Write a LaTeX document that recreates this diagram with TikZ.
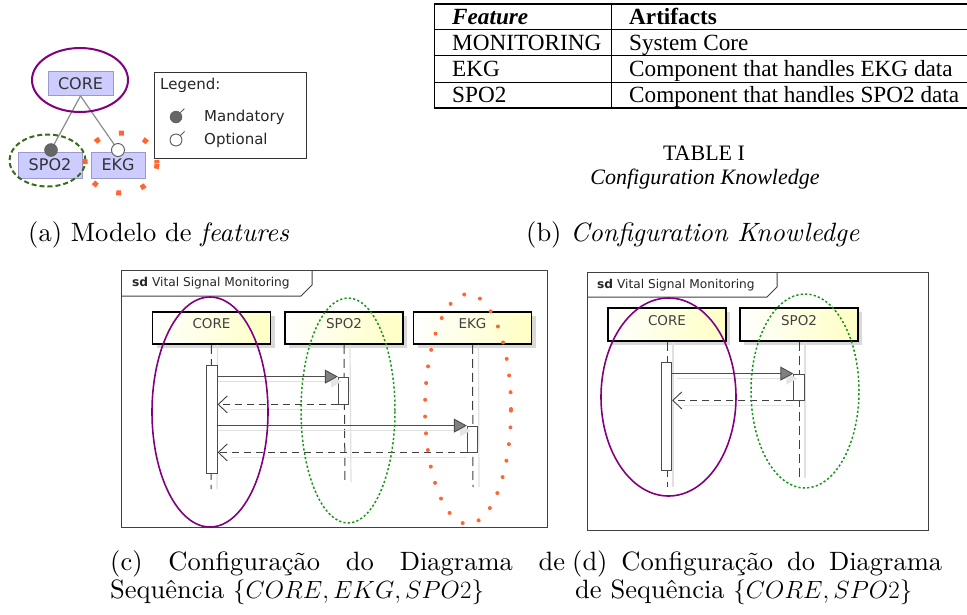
\documentclass[tikz,border=0pt]{standalone}
\usepackage{fontspec}
\setmainfont{lmroman10-regular.otf}[ItalicFont=lmroman10-italic.otf, BoldFont=lmroman10-bold.otf]
\newfontfamily\timesf{Liberation Serif}
\newfontfamily\dejavu{DejaVu Sans}
\usetikzlibrary{arrows.meta,shadows,calc}

\definecolor{fpurple}{HTML}{800080}
\definecolor{folive}{HTML}{3A6B18}
\definecolor{forange}{HTML}{FF6633}
\definecolor{fgreen}{HTML}{1A961A}
\definecolor{ffill}{HTML}{CCCCFF}
\definecolor{fborder}{HTML}{9999CC}
\definecolor{hdryellow}{HTML}{FFFFC4}

\tikzset{
  fbox/.style={draw=fborder, fill=ffill, line width=0.8pt, inner sep=0pt,
    minimum height=24pt, text=black!80, font=\dejavu\fontsize{16}{16}\selectfont},
  fline/.style={draw=black!45, line width=1.2pt},
  mandnode/.style={circle, draw=black!65, fill=black!60, minimum size=13pt, inner sep=0pt},
  optnode/.style={circle, draw=black!65, fill=white, line width=0.9pt, minimum size=13pt, inner sep=0pt},
  legtext/.style={anchor=west, inner sep=0pt, text=black!85, font=\dejavu\fontsize{15}{15}\selectfont},
  hilitecore/.style={draw=fpurple, line width=1.6pt},
  hilitespo/.style={draw=fgreen, line width=1.5pt, dash pattern=on 2.2pt off 2.2pt},
  hiliteekg/.style={draw=forange, line width=4pt, line cap=round, dash pattern=on 0pt off 16.8pt},
  tabtext/.style={anchor=base west, inner sep=0pt, font=\timesf\fontsize{23.2}{23.2}\selectfont},
  sdframe/.style={draw=black!75, line width=1pt},
  sdtitle/.style={anchor=west, inner sep=0pt, text=black!85, font=\dejavu\fontsize{12.2}{12.2}\selectfont},
  hdrbox/.style={draw=black, line width=1.8pt, left color=white, right color=hdryellow,
    minimum width=118pt, minimum height=32pt, inner sep=0pt, text depth=9pt,
    text=black!75, font=\dejavu\fontsize{13.5}{13.5}\selectfont,
    drop shadow={shadow xshift=4pt, shadow yshift=-4pt, fill=black!15, opacity=1}},
  lifeline/.style={draw=black!75, line width=1pt, dash pattern=on 9pt off 5pt},
  lifeshadow/.style={draw=black!12, line width=1.2pt},
  actbar/.style={draw=black!70, fill=white, line width=0.8pt, minimum width=10.5pt, inner sep=0pt},
  callmsg/.style={draw=black!70, line width=0.9pt,
    -{Triangle[length=13pt, width=14pt, fill=black!50]}},
  callshadow/.style={draw=black!12, line width=1.2pt,
    -{Triangle[length=11pt, width=12pt, fill=black!10, color=black!10]}},
  retmsg/.style={draw=black!75, line width=0.9pt, dash pattern=on 7pt off 5pt,
    -{Straight Barb[length=9pt, width=17pt, line width=0.9pt]}},
  retshadow/.style={draw=black!10, line width=1.2pt},
  capt/.style={anchor=base west, inner sep=0pt, font=\fontsize{26.5}{28}\selectfont},
}

\begin{document}
\begin{tikzpicture}[x=1pt, y=-1pt]
\useasboundingbox (0,0) rectangle (967,614);

% ---------------- (a) feature model ----------------
\node[fbox, minimum width=65pt] (core) at (80.5,83.5) {CORE};
\node[fbox, minimum width=64pt, minimum height=26pt] (spo2) at (50,165) {SPO2};
\node[fbox, minimum width=54pt, minimum height=26pt] (ekg) at (118,165) {EKG};
\coordinate (mandpos) at (51,150);
\coordinate (optpos) at (118,150);
\draw[fline] (core.south) -- (mandpos);
\draw[fline] (core.south) -- (optpos);
\node[mandnode] (mand) at (mandpos) {};
\node[optnode] (opt) at (optpos) {};

\draw[draw=fpurple, line width=2pt] (80,80) ellipse [x radius=48pt, y radius=32pt];
\draw[draw=folive, line width=2pt, dash pattern=on 5pt off 3pt] (47.5,160.5) ellipse [x radius=38pt, y radius=26pt];
\draw[draw=forange, line width=5pt, dash pattern=on 5pt off 20.5pt, dash phase=2pt] (121,163) ellipse [x radius=36pt, y radius=30pt];

% legend
\node[draw=black!80, line width=1pt, minimum width=152pt, minimum height=86pt, inner sep=0pt] (legend) at (230,115) {};
\node[legtext] (legtitle) at (160,85) {Legend:};
\node[mandnode, minimum size=12pt] (legmand) at (176,117) {};
\node[optnode, minimum size=12pt] (legopt) at (176,140) {};
\draw[draw=black!65, line width=0.9pt] (legmand.45) -- ++(4,-4);
\draw[draw=black!65, line width=0.9pt] (legopt.45) -- ++(4,-4);
\node[legtext] (legmandtxt) at (204,117) {Mandatory};
\node[legtext] (legopttxt) at (204,140) {Optional};

% ---------------- (b) configuration knowledge ----------------
\draw[line width=1.1pt] (434,4) -- (967,4);
\draw[line width=0.9pt] (434,29) -- (967,29);
\draw[line width=0.9pt] (434,55) -- (967,55);
\draw[line width=0.9pt] (434,82) -- (967,82);
\draw[line width=1.1pt] (434,108) -- (967,108);
\draw[line width=0.9pt] (434,4) -- (434,108);
\draw[line width=0.9pt] (611,4) -- (611,108);

\node[tabtext] (hfeat) at (452,24) {\bfseries\itshape Feature};
\node[tabtext] (hart) at (629,24) {\bfseries Artifacts};
\node[tabtext] (r1a) at (452,50) {MONITORING};
\node[tabtext] (r1b) at (629,50) {System Core};
\node[tabtext] (r2a) at (452,76.5) {EKG};
\node[tabtext] (r2b) at (629,76.5) {Component that handles EKG data};
\node[tabtext] (r3a) at (452,102.5) {SPO2};
\node[tabtext] (r3b) at (629,102.5) {Component that handles SPO2 data};

\node[anchor=base, inner sep=0pt, font=\timesf\fontsize{22}{22}\selectfont] (tabno) at (704,160) {TABLE I};
\node[anchor=base, inner sep=0pt, font=\timesf\itshape\fontsize{22}{22}\selectfont] (tabcap) at (705,184) {Configuration Knowledge};

% ---------------- captions (a), (b) ----------------
\node[capt] (capa) at (28,241) {(a) Modelo de \textit{features}};
\node[capt] (capb) at (526,241) {(b) \textit{Configuration Knowledge}};

% ---------------- (c) sequence diagram, three lifelines ----------------
\draw[sdframe] (121,270) rectangle (547,527);
\draw[sdframe] (121,296) -- (301,296) -- (312,285) -- (312,270);
\node[sdtitle] (sdc) at (132,283) {\textbf{sd} Vital Signal Monitoring};

\node[hdrbox] (cC) at (211.5,328) {CORE};
\node[hdrbox] (cS) at (344,328) {SPO2};
\node[hdrbox] (cE) at (472.5,328) {EKG};

\coordinate (cCend) at (211,489);
\coordinate (cSend) at (345,482);
\coordinate (cEend) at (473,487);
\draw[lifeshadow] ([xshift=6pt]cC.south) -- ([xshift=6pt]cCend);
\draw[lifeshadow] ([xshift=6pt]cS.south) -- ([xshift=6pt]cSend);
\draw[lifeshadow] ([xshift=6pt]cE.south) -- ([xshift=6pt]cEend);
\draw[lifeline] (cC.south) -- (cCend);
\draw[lifeline] (cS.south) -- (cSend);
\draw[lifeline] (cE.south) -- (cEend);

\node[actbar, minimum height=108pt] (cCa) at (212,419) {};
\node[actbar, minimum height=27pt] (cSa) at (343.5,390.5) {};
\node[actbar, minimum height=26pt] (cEa) at (472.5,439) {};

\draw[callshadow] ([yshift=-5pt]cCa.east |- cSa.north) -- ([yshift=-5pt,xshift=4pt]cSa.north west);
\draw[retshadow] ([yshift=-5pt,xshift=12pt]cCa.east |- cSa.south) -- ([yshift=-5pt]cSa.south west);
\draw[callshadow] ([yshift=-5pt]cCa.east |- cEa.north) -- ([yshift=-5pt,xshift=4pt]cEa.north west);
\draw[retshadow] ([yshift=-5pt,xshift=12pt]cCa.east |- cEa.south) -- ([yshift=-5pt]cEa.south west);

\draw[callmsg] (cCa.east |- cSa.north) -- (cSa.north west);
\draw[retmsg] (cSa.south west) -- (cCa.east |- cSa.south);
\draw[callmsg] (cCa.east |- cEa.north) -- (cEa.north west);
\draw[retmsg] (cEa.south west) -- (cCa.east |- cEa.south);

\draw[hilitecore] (210,412) ellipse [x radius=58pt, y radius=115pt];
\draw[hilitespo] (348,410.5) ellipse [x radius=47pt, y radius=112.5pt];
\draw[hiliteekg] (468,409) ellipse [x radius=43pt, y radius=115pt];

% ---------------- (d) sequence diagram, two lifelines ----------------
\draw[sdframe] (587,272) rectangle (928,530);
\draw[sdframe] (587,297) -- (767,297) -- (777,287) -- (777,272);
\node[sdtitle] (sdd) at (597,285) {\textbf{sd} Vital Signal Monitoring};

\node[hdrbox, minimum height=33pt] (dC) at (667,324.5) {CORE};
\node[hdrbox, minimum height=33pt] (dS) at (799,324.5) {SPO2};

\coordinate (dCend) at (667,487);
\coordinate (dSend) at (799,478);
\draw[lifeshadow] ([xshift=6pt]dC.south) -- ([xshift=6pt]dCend);
\draw[lifeshadow] ([xshift=6pt]dS.south) -- ([xshift=6pt]dSend);
\draw[lifeline] (dC.south) -- (dCend);
\draw[lifeline] (dS.south) -- (dSend);

\node[actbar, minimum height=108pt] (dCa) at (666.5,416) {};
\node[actbar, minimum height=26pt] (dSa) at (799,387) {};

\draw[callshadow] ([yshift=-5pt,xshift=5pt]dCa.east |- dSa.north) -- ([yshift=-5pt,xshift=4pt]dSa.north west);
\draw[retshadow] ([yshift=-5pt,xshift=12pt]dCa.east |- dSa.south) -- ([yshift=-5pt]dSa.south west);
\draw[callmsg] (dCa.east |- dSa.north) -- (dSa.north west);
\draw[retmsg] (dSa.south west) -- (dCa.east |- dSa.south);

\draw[hilitecore] (668.5,397) ellipse [x radius=67.5pt, y radius=99pt];
\draw[hilitespo] (805,391) ellipse [x radius=54pt, y radius=97pt];

% ---------------- captions (c), (d) ----------------
\node[capt] (capc1) at (110,570) {\makebox[455pt][s]{(c) Configuração do Diagrama de}};
\node[capt] (capc2) at (110,598) {Sequência $\{CORE, EKG, SPO2\}$};
\node[capt] (capd1) at (572,570) {\makebox[370pt][s]{(d) Configuração do Diagrama}};
\node[capt] (capd2) at (575,598) {de Sequência $\{CORE, SPO2\}$};
\end{tikzpicture}
\end{document}
